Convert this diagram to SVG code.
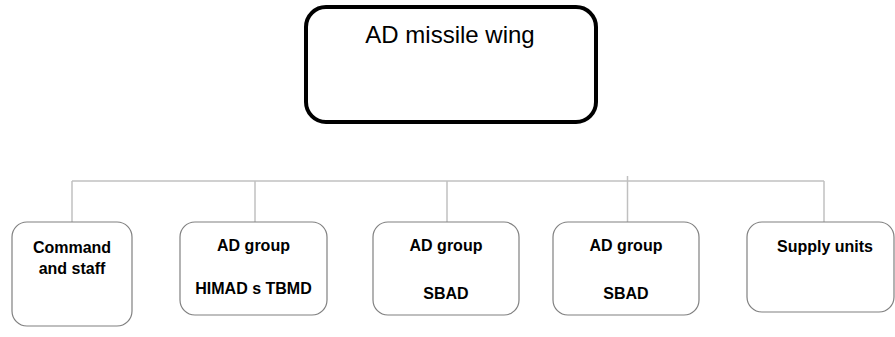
<svg xmlns="http://www.w3.org/2000/svg" width="895" height="337" viewBox="0 0 895 337">
  <style>
    .unit { fill: #ffffff; stroke: #808080; stroke-width: 1.2; }
    .lbl { font-family: "Liberation Sans", Arial, sans-serif; font-size: 16px; font-weight: bold; fill: #000; text-anchor: middle; }
    .link { fill: none; stroke: #c0c0c0; stroke-width: 1.5; }
  </style>
  <rect x="0" y="0" width="895" height="337" fill="#ffffff"/>

  <!-- wing headquarters -->
  <g id="wing">
    <rect x="306" y="7" width="290" height="115" rx="20" ry="20" fill="#ffffff" stroke="#000000" stroke-width="4"/>
    <text x="450" y="43" font-family="Liberation Sans, Arial, sans-serif" font-size="24" text-anchor="middle" fill="#000">AD missile wing</text>
  </g>

  <!-- bus line and drops to subordinate units -->
  <g id="connectors">
    <path class="link" d="M72 181 H824"/>
    <path class="link" d="M72 181 V222"/>
    <path class="link" d="M255 181 V222"/>
    <path class="link" d="M447 181 V222"/>
    <path class="link" d="M627.5 176 V222"/>
    <path class="link" d="M824 181 V222"/>
  </g>

  <g id="command">
    <rect class="unit" x="12" y="222" width="120" height="104" rx="15" ry="15"/>
    <text class="lbl" x="72" y="253">Command</text>
    <text class="lbl" x="72" y="274">and staff</text>
  </g>

  <g id="himad">
    <rect class="unit" x="180" y="222" width="147" height="93" rx="15" ry="15"/>
    <text class="lbl" x="253.5" y="251">AD group</text>
    <text class="lbl" x="253.5" y="294">HIMAD s TBMD</text>
  </g>

  <g id="sbad1">
    <rect class="unit" x="373" y="222" width="146" height="93" rx="15" ry="15"/>
    <text class="lbl" x="446" y="251">AD group</text>
    <text class="lbl" x="446" y="299">SBAD</text>
  </g>

  <g id="sbad2">
    <rect class="unit" x="553" y="222" width="146" height="93" rx="15" ry="15"/>
    <text class="lbl" x="626" y="251">AD group</text>
    <text class="lbl" x="626" y="299">SBAD</text>
  </g>

  <g id="supply">
    <rect class="unit" x="747" y="222" width="147" height="90" rx="15" ry="15"/>
    <text class="lbl" x="825" y="252">Supply units</text>
  </g>
</svg>
